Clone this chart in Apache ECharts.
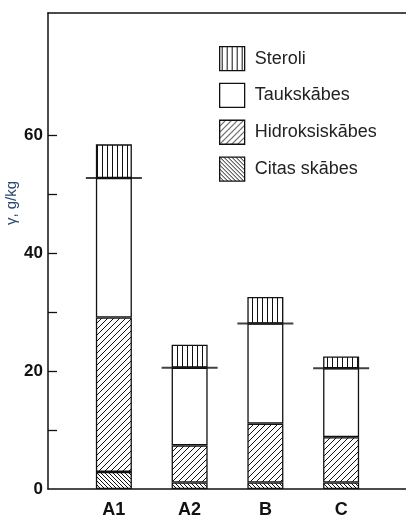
<!DOCTYPE html>
<html><head><meta charset="utf-8">
<script src="https://cdn.jsdelivr.net/npm/echarts@6.0.0/dist/echarts.min.js"></script>
<style>html,body{margin:0;padding:0;background:#fff}#c{width:406px;height:517px}</style>
</head><body><div id="c"></div>
<script>
const categories = ['A1', 'A2', 'B', 'C'];
const citas = [2.9, 1.1, 1.1, 1.1];
const hidroksi = [26.2, 6.3, 10.0, 7.7];
const tauk = [23.7, 13.2, 17.0, 11.7];
const steroli = [5.7, 3.9, 4.5, 2.0];
const yTickValues = [10, 20, 30, 40, 50, 60];
const yLabelValues = [0, 20, 40, 60];
const seriesNames = ['Steroli', 'Taukskābes', 'Hidroksiskābes', 'Citas skābes'];
const yName = 'γ, g/kg';

const FONT = '"Liberation Sans", Arial, sans-serif';
const INK = '#111';

function pattern(kind, size) {
  const c = document.createElement('canvas');
  c.width = size; c.height = size;
  const g = c.getContext('2d');
  g.fillStyle = '#fff'; g.fillRect(0, 0, size, size);
  g.strokeStyle = INK; g.lineWidth = 1;
  g.beginPath();
  if (kind === 'v') {
    g.moveTo(size / 2, 0); g.lineTo(size / 2, size);
  } else if (kind === '/') {
    g.moveTo(0, size); g.lineTo(size, 0);
    g.moveTo(-1, 1); g.lineTo(1, -1);
    g.moveTo(size - 1, size + 1); g.lineTo(size + 1, size - 1);
  } else {
    g.moveTo(0, 0); g.lineTo(size, size);
    g.moveTo(size - 1, -1); g.lineTo(size + 1, 1);
    g.moveTo(-1, size - 1); g.lineTo(1, size + 1);
  }
  g.stroke();
  return { image: c, repeat: 'repeat' };
}

const fattyTop = categories.map((_, i) => citas[i] + hidroksi[i] + tauk[i]);

const YMAX = 80.8;
const barCommon = {
  type: 'bar', stack: 'total', xAxisIndex: 2, yAxisIndex: 1, barWidth: 36,
  silent: true
};
const border = { borderColor: INK, borderWidth: 1.3 };

const chart = echarts.init(document.getElementById('c'), null, { renderer: 'canvas' });
chart.setOption({
  animation: false,
  backgroundColor: '#fff',
  textStyle: { fontFamily: FONT },
  grid: [
    { left: 48, right: 0, top: 13, bottom: 28, outerBoundsMode: 'none', containLabel: false },
    { left: 76, right: 27, top: 13, bottom: 28, outerBoundsMode: 'none', containLabel: false }
  ],
  xAxis: [
    { gridIndex: 0, type: 'value', min: 0, max: 1, position: 'bottom',
      axisLine: { show: true, lineStyle: { color: INK, width: 1.5 } },
      axisTick: { show: false }, axisLabel: { show: false }, splitLine: { show: false } },
    { gridIndex: 0, type: 'value', min: 0, max: 1, position: 'top',
      axisLine: { show: true, lineStyle: { color: INK, width: 1.5 } },
      axisTick: { show: false }, axisLabel: { show: false }, splitLine: { show: false } },
    { gridIndex: 1, type: 'category', data: categories,
      axisLine: { show: false }, axisTick: { show: false },
      axisLabel: { fontWeight: 'bold', fontSize: 18, color: INK, margin: 12, fontFamily: FONT } }
  ],
  yAxis: [
    { gridIndex: 0, type: 'value', min: 0, max: YMAX,
      axisLine: { show: true, lineStyle: { color: INK, width: 1.5 } },
      axisTick: { show: true, inside: true, length: 9, customValues: yTickValues,
        lineStyle: { color: INK, width: 1.3 } },
      axisLabel: { customValues: yLabelValues, fontWeight: 'bold', fontSize: 17, color: INK,
        margin: 5, fontFamily: FONT },
      splitLine: { show: false } },
    { gridIndex: 1, type: 'value', min: 0, max: YMAX, show: false, splitLine: { show: false } }
  ],
  legend: {
    orient: 'vertical', left: 214, top: 41, itemWidth: 25, itemHeight: 24, itemGap: 11.5,
    data: seriesNames, icon: 'rect', selectedMode: false,
    itemStyle: { borderColor: INK, borderWidth: 1.3 },
    textStyle: { fontSize: 18, color: '#222', fontFamily: FONT, padding: [0, 0, 0, 5] }
  },
  graphic: [
    { type: 'text', x: 12, y: 203, rotation: Math.PI / 2,
      style: { text: yName, fill: '#2b4a6f', font: '15px "Liberation Sans", Arial, sans-serif',
        align: 'center', verticalAlign: 'middle' } }
  ],
  series: [
    Object.assign({}, barCommon, { name: seriesNames[3], data: citas,
      itemStyle: Object.assign({ color: pattern('\\', 4) }, border) }),
    Object.assign({}, barCommon, { name: seriesNames[2], data: hidroksi,
      itemStyle: Object.assign({ color: pattern('/', 6) }, border) }),
    Object.assign({}, barCommon, { name: seriesNames[1], data: tauk,
      itemStyle: Object.assign({ color: '#fff' }, border) }),
    Object.assign({}, barCommon, { name: seriesNames[0], data: steroli,
      itemStyle: Object.assign({ color: pattern('v', 5) }, border) }),
    { type: 'scatter', xAxisIndex: 2, yAxisIndex: 1, data: fattyTop, symbol: 'rect',
      symbolSize: [56, 2], itemStyle: { color: INK }, z: 5, silent: true }
  ]
});
</script>
</body></html>
